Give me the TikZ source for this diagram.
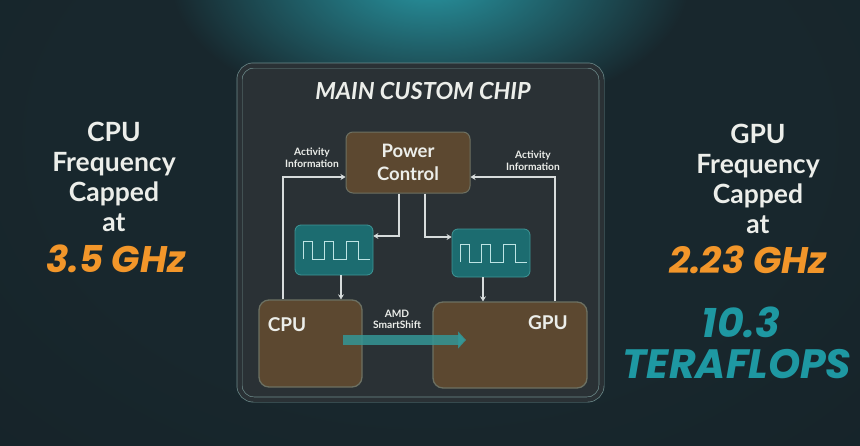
\documentclass[tikz,border=0pt]{standalone}
\usepackage{fontspec}
\setmainfont{Lato}
\newfontfamily\pop{Poppins}
\usetikzlibrary{arrows.meta,calc,fadings}
\definecolor{bg}{RGB}{18,27,32}
\definecolor{bgmid}{RGB}{24,39,45}
\definecolor{glow}{RGB}{40,150,162}
\definecolor{chipfill}{RGB}{42,49,53}
\definecolor{chipline}{RGB}{110,140,140}
\definecolor{brown}{RGB}{92,72,48}
\definecolor{brownline}{RGB}{108,112,98}
\definecolor{tealbox}{RGB}{28,108,112}
\definecolor{tealline}{RGB}{62,150,150}
\definecolor{wave}{RGB}{190,228,228}
\definecolor{txt}{RGB}{236,238,234}
\definecolor{orng}{RGB}{242,150,42}
\definecolor{tealtxt}{RGB}{30,152,162}
\definecolor{conn}{RGB}{215,220,220}
\definecolor{ssarrow}{RGB}{52,150,150}
\pgfdeclareradialshading{vignette}{\pgfpoint{0bp}{0bp}}{color(0bp)=(bgmid); color(15bp)=(bgmid); color(50bp)=(bg)}
\tikzfading[name=glowfade, inner color=transparent!0, outer color=transparent!100]
\tikzset{
  sidetxt/.style={text=txt,font=\bfseries\fontsize{26.5}{30}\selectfont,align=center},
  bigorange/.style={text=orng,font=\pop\bfseries\itshape\fontsize{37}{40}\selectfont},
  bigteal/.style={text=tealtxt,font=\pop\bfseries\itshape\fontsize{41}{44}\selectfont},
  pcbox/.style={draw=brownline,line width=1pt,fill=brown,rounded corners=7pt,text=txt,
     font=\bfseries\fontsize{18.5}{23}\selectfont,align=center,inner sep=0pt},
  procbox/.style={draw=brownline,line width=1.3pt,fill=brown,rounded corners=10pt,inner sep=0pt},
  clkbox/.style={draw=tealline,line width=0.8pt,fill=tealbox,rounded corners=6pt,inner sep=0pt,minimum width=78pt},
  smalltxt/.style={text=txt,font=\bfseries\fontsize{10.2}{11.5}\selectfont,align=center},
  proctxt/.style={text=txt,font=\bfseries\fontsize{19}{22}\selectfont},
  connline/.style={draw=conn,line width=1.6pt,-{Stealth[length=5pt,width=6pt]}},
  wavel/.style={draw=wave,line width=1pt},
}
\begin{document}
\begin{tikzpicture}[x=1pt,y=-1pt]
\useasboundingbox (0,0) rectangle (860,445);
\fill[bg] (0,0) rectangle (860,445);
\begin{scope}
\clip (0,0) rectangle (860,445);
\shade[shading=vignette] (430,140) ellipse [x radius=620, y radius=440];
\fill[glow, path fading=glowfade] (430,-20) ellipse [x radius=260, y radius=140];
\end{scope}
% chip
\node[draw=chipline,line width=0.7pt,double=chipfill,double distance=4.5pt,fill=chipfill,rounded corners=14pt,
  minimum width=362pt,minimum height=334pt,inner sep=0pt] (chip) at (420.5,232.5) {};
\node[text=txt,font=\bfseries\itshape\fontsize{23.5}{26}\selectfont] (title) at (423,91) {MAIN CUSTOM CHIP};
% boxes
\node[pcbox,minimum width=124pt,minimum height=61pt] (pc) at (408,162.5) {Power\\Control};
\node[smalltxt] (aL) at (312,157.5) {Activity\\Information};
\node[smalltxt] (aR) at (533,160.5) {Activity\\Information};
\node[clkbox,minimum height=50pt] (clkL) at (334,250) {};
\node[clkbox,minimum height=48pt] (clkR) at (491,253) {};
\node[procbox,minimum width=103pt,minimum height=87pt] (cpu) at (310.5,343.5) {};
\node[procbox,minimum width=154pt,minimum height=86pt] (gpu) at (510,345) {};
\node[proctxt] (cpul) at (287,325) {CPU};
\node[proctxt] (gpul) at (548,323) {GPU};
% waves
\foreach \c in {clkL,clkR}{
  \draw[wavel,shift={(\c.center)}] (-31,9) -- (-31,-9) -- (-22,-9) -- (-22,9) -- (-10,9) -- (-10,-9) -- (-1,-9) -- (-1,9)
     -- (12,9) -- (12,-9) -- (24,-9) -- (24,9) -- (36,9);
}
% connectors
\coordinate (fbL) at (283,177);
\coordinate (fbR) at (555,177);
\draw[connline] (cpu.north -| fbL) |- (pc.west |- fbL);
\draw[connline] (gpu.north -| fbR) |- (pc.east |- fbR);
\coordinate (dL) at (399,236);
\coordinate (dR) at (425,237);
\draw[connline] (pc.south -| dL) |- (clkL.east |- dL);
\draw[connline] (pc.south -| dR) |- (clkR.west |- dR);
\draw[connline] (clkL.south -| 341,0) -- (cpu.north -| 341,0);
\draw[connline] (clkR.south -| 483,0) -- (gpu.north -| 483,0);
% smartshift
\coordinate (ssA) at (343,340);
\coordinate (ssB) at (466,340);
\draw[draw=ssarrow,draw opacity=0.85,line width=10pt,-{Triangle[length=8pt,width=17pt]}] (ssA) -- (ssB);
\node[smalltxt] (ssl) at (397,319.5) {AMD\\SmartShift};
% side texts
\node[sidetxt] (leftt) at (114,177) {CPU\\Frequency\\Capped\\at};
\node[bigorange] (lghz) at (116,259) {3.5 GHz};
\node[sidetxt] (rightt) at (758,178.5) {GPU\\Frequency\\Capped\\at};
\node[bigorange] (rghz) at (748,260) {2.23 GHz};
\node[bigteal] (tf1) at (741,322) {10.3};
\node[bigteal] (tf2) at (737,364) {TERAFLOPS};
\end{tikzpicture}
\end{document}
